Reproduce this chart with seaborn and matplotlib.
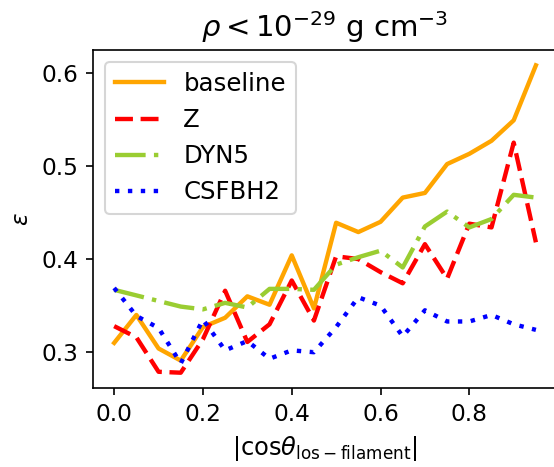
import numpy as np
import pandas as pd
import seaborn as sns
import matplotlib
matplotlib.use("Agg")
import matplotlib.pyplot as plt
from matplotlib.ticker import MultipleLocator

#%% data
cos_bins = [0.0, 0.05, 0.1, 0.15, 0.2, 0.25, 0.3, 0.35, 0.4, 0.45,
            0.5, 0.55, 0.6, 0.65, 0.7, 0.75, 0.8, 0.85, 0.9, 0.95]
baseline = [0.310, 0.340, 0.304, 0.291, 0.327, 0.337, 0.360, 0.351, 0.404, 0.347,
            0.439, 0.429, 0.440, 0.466, 0.471, 0.502, 0.513, 0.527, 0.549, 0.608]
z_run = [0.328, 0.316, 0.279, 0.278, 0.314, 0.366, 0.311, 0.330, 0.377, 0.334,
         0.403, 0.400, 0.386, 0.374, 0.416, 0.379, 0.438, 0.434, 0.525, 0.418]
dyn5 = [0.367, 0.361, 0.355, 0.349, 0.346, 0.353, 0.348, 0.368, 0.368, 0.367,
        0.394, 0.402, 0.409, 0.391, 0.435, 0.451, 0.434, 0.443, 0.469, 0.466]
csfbh2 = [0.369, 0.339, 0.326, 0.288, 0.335, 0.302, 0.312, 0.293, 0.302, 0.300,
          0.327, 0.359, 0.350, 0.317, 0.345, 0.333, 0.333, 0.340, 0.330, 0.324]

runs = ["baseline", "Z", "DYN5", "CSFBH2"]
colors = ["orange", "red", "yellowgreen", "blue"]
styles = ["-", (0, (4.1, 1.75)), (0, (7.0, 1.9, 1.0, 1.9)), (0, (1.0, 1.95))]

df = pd.DataFrame({"cos": cos_bins * 4,
                   "eps": baseline + z_run + dyn5 + csfbh2,
                   "run": np.repeat(runs, len(cos_bins))})

#%% plot
plt.rcParams["font.size"] = 11.2
fig, ax = plt.subplots(figsize=(5.54 / 1.5, 4.67 / 1.5), dpi=150)
fig.subplots_adjust(left=0.168, right=1.0054, top=0.893, bottom=0.169)
for run, c, ls in zip(runs, colors, styles):
    sns.lineplot(ax=ax, data=df[df["run"] == run], x="cos", y="eps",
                 color=c, linestyle=ls, linewidth=2.1, label=run)

ax.set_title(r"$\rho < 10^{-29}$ g cm$^{-3}$", fontsize=14)
ax.set_xlabel(r"$|\mathrm{cos}\theta_{\rm los-filament}|$", fontsize=11.6)
ax.set_ylabel(r"$\epsilon$")
ax.set_xticks([0.0, 0.2, 0.4, 0.6, 0.8])
ax.yaxis.set_major_locator(MultipleLocator(0.1))
ax.legend(loc="upper left", fontsize=11.7)

fig.savefig("out.png", dpi=150)
